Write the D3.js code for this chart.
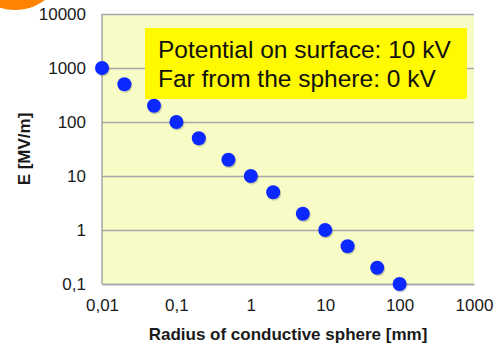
<!DOCTYPE html>
<html><head><meta charset="utf-8">
<script src="https://cdn.jsdelivr.net/npm/d3@7"></script>
<style>body{margin:0;background:#fff;}svg{display:block;font-family:Arial,"Liberation Sans",Helvetica,sans-serif;}</style>
</head><body><svg id="c" width="501" height="347"></svg>
<script>
const radius = [0.01, 0.02, 0.05, 0.1, 0.2, 0.5, 1, 2, 5, 10, 20, 50, 100];
const field = [1000, 500, 200, 100, 50, 20, 10, 5, 2, 1, 0.5, 0.2, 0.1];
const xTicks = [0.01, 0.1, 1, 10, 100, 1000];
const xTickLabels = ["0,01", "0,1", "1", "10", "100", "1000"];
const yTicks = [0.1, 1, 10, 100, 1000, 10000];
const yTickLabels = ["0,1", "1", "10", "100", "1000", "10000"];
const noteLines = ["Potential on surface: 10 kV", "Far from the sphere: 0 kV"];
const xTitle = "Radius of conductive sphere [mm]";
const yTitle = "E [MV/m]";

const svg = d3.select("#c");
const L = 102, R = 474, T = 14, B = 284;
const x = d3.scaleLog().domain([0.01, 1000]).range([L, R]);
const y = d3.scaleLog().domain([0.1, 10000]).range([B, T]);

// orange decoration
svg.append("circle").attr("cx", 15).attr("cy", -40).attr("r", 50).attr("fill", "#FF8300");

svg.append("rect").attr("x", L).attr("y", T).attr("width", R - L).attr("height", B - T).attr("fill", "#F7FBC6");

// grid
const gy = svg.append("g").attr("transform", `translate(${L},0)`)
  .call(d3.axisLeft(y).tickValues(yTicks).tickSize(-(R - L)).tickFormat((d, i) => yTickLabels[i]).tickPadding(16));
gy.select(".domain").remove();
gy.selectAll(".tick line").attr("stroke", "#A6A6A6").attr("stroke-width", 1.3);
gy.selectAll(".tick text").attr("font-size", 17).attr("fill", "#1a1a1a").attr("font-family", "Arial, Liberation Sans, sans-serif");

const gx = svg.append("g").attr("transform", `translate(0,${B})`)
  .call(d3.axisBottom(x).tickValues(xTicks).tickSize(0).tickFormat((d, i) => xTickLabels[i]).tickPadding(15));
gx.select(".domain").attr("stroke", "#A6A6A6").attr("stroke-width", 1.5);
gx.selectAll(".tick text").attr("font-size", 17).attr("fill", "#1a1a1a").attr("font-family", "Arial, Liberation Sans, sans-serif");

svg.append("line").attr("x1", L).attr("x2", L).attr("y1", T).attr("y2", B).attr("stroke", "#A6A6A6").attr("stroke-width", 1.5);

// note box
svg.append("rect").attr("x", 145).attr("y", 28).attr("width", 322).attr("height", 71).attr("fill", "#FFFA00");
svg.append("g").selectAll("text").data(noteLines).join("text")
  .attr("x", 158).attr("y", (d, i) => 58 + i * 28.5)
  .attr("font-size", 24.5).attr("fill", "#111").text(d => d);

// shadows + points
const pts = radius.map((r, i) => ({r, e: field[i]}));
svg.append("g").selectAll("circle").data(pts).join("circle")
  .attr("cx", d => x(d.r) + 1).attr("cy", d => y(d.e) + 1.5).attr("r", 7)
  .attr("fill", "rgba(0,0,0,0.18)");
svg.append("g").selectAll("circle").data(pts).join("circle")
  .attr("cx", d => x(d.r)).attr("cy", d => y(d.e)).attr("r", 7)
  .attr("fill", "#0A28FF");

// titles
svg.append("text").attr("x", 288).attr("y", 340).attr("text-anchor", "middle")
  .attr("font-size", 17).attr("font-weight", "bold").attr("fill", "#1a1a1a").text(xTitle);
svg.append("text").attr("transform", "translate(30,149) rotate(-90)").attr("text-anchor", "middle")
  .attr("font-size", 17).attr("font-weight", "bold").attr("fill", "#1a1a1a").text(yTitle);
</script></body></html>
